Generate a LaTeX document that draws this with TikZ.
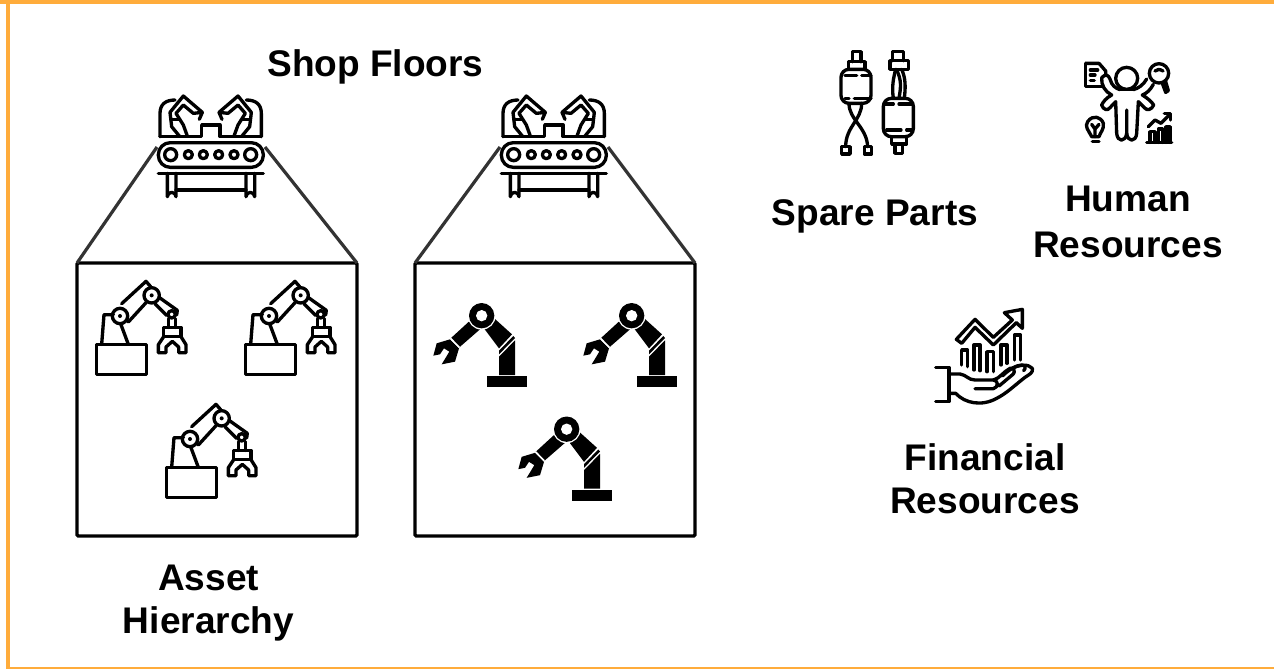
\documentclass[tikz,border=0pt]{standalone}
\usepackage{fontspec}
\setmainfont{Liberation Sans}
\definecolor{frameor}{HTML}{FFAC3B}
\definecolor{linkgrey}{HTML}{333333}
\tikzset{
  icon/.style={line width=2.5pt,line join=round,line cap=round,draw=black},
  lab/.style={font=\bfseries\fontsize{27.8}{32.25}\selectfont,align=center,text=black,inner sep=0pt},
  framebox/.style={draw=black,line width=2.5pt,inner sep=0pt,outer sep=0pt,minimum width=210pt,minimum height=204.75pt,anchor=north west,rounded corners=1pt},
  link/.style={draw=linkgrey,line width=2.4pt},
  zoomed/.style={x=0.25pt,y=-0.25pt},
  cut/.style={draw=white,line width=1.1pt}
}
\newcommand{\conveyorhalf}{
  \draw[icon] (60,170) -- (60,100) .. controls (60,72) and (78,60) .. (105,60);
  \draw[icon] (90,97) -- (130,48) -- (187,97) -- (178,118) (187,97) -- (160,100) -- (130,75) -- (108,100) -- (130,135) -- (142,168);
  \draw[icon] (90,97) -- (95,140) -- (118,168);
  \draw[icon] (95,118) -- (118,118);
}
\newcommand{\conveyoricon}{
  \conveyorhalf
  \begin{scope}[xshift=106pt,xscale=-1]\conveyorhalf\end{scope}
  \draw[icon] (60,170) -- (185,170) -- (185,135) -- (240,135) -- (240,170) -- (364,170);
  \draw[icon,rounded corners=9pt] (55,188) rectangle (370,262);
  \foreach \cx in {92,332}{\draw[icon] (\cx,224) circle[radius=18];}
  \foreach \cx in {145,190,236,282}{\draw[icon] (\cx,224) circle[radius=12];}
  \draw[icon] (55,280) -- (370,280);
  \draw[icon] (82,280) -- (82,350) arc[start angle=180,end angle=360,radius=13] -- (108,280);
  \draw[icon] (318,280) -- (318,350) arc[start angle=180,end angle=360,radius=13] -- (344,280);
  \draw[icon] (108,330) -- (318,330);
}
\newcommand{\robotline}{
  \draw[icon] (35,223) rectangle (185,313);
  \draw[icon] (50,223) -- (57,134) -- (85,134);
  \draw[icon] (108,164) -- (130,223);
  \draw[icon] (105,138) circle[radius=23];
  \fill (105,138) circle[radius=6];
  \draw[icon] (200,76) circle[radius=23];
  \fill (200,76) circle[radius=6];
  \draw[icon] (110,101) -- (183,34) -- (197,50);
  \draw[icon] (130,156) -- (183,98);
  \draw[icon] (225,84) -- (277,121) -- (275,135);
  \draw[icon] (210,101) -- (245,136);
  \draw[icon] (260,133) circle[radius=11];
  \draw[icon] (250,146) -- (250,172) (272,146) -- (272,172);
  \draw[icon] (236,172) rectangle (288,200);
  \draw[icon] (236,200) -- (220,224) -- (220,248) -- (243,248) -- (243,231) -- (262,214) -- (281,231) -- (281,248) -- (303,248) -- (303,224) -- (288,200);
}
\newcommand{\robotsolid}{
  \fill (1022,75) -- (962,130) -- (988,157) -- (1050,103) -- cycle;
  \fill (1095,72) -- (1146,118) -- (1107,160) -- (1062,100) -- cycle;
  \fill (1150,123) -- (1155,129) -- (1107,178) -- (1107,167) -- cycle;
  \fill (960,133) -- (920,145) -- (910,182) -- (930,178) -- (942,160) -- (958,170) -- (935,208) -- (975,200) -- (987,160) -- cycle;
  \fill (1155,136) -- (1155,240) -- (1107,240) -- (1107,185) -- cycle;
  \fill (1072,243) rectangle (1190,277);
  \fill[white] (1055,62) circle[radius=42];
  \fill (1055,62) circle[radius=38];
  \fill[white] (1055,62) circle[radius=17];
  \draw[cut] (962,130) -- (988,157);
}
\begin{document}
\begin{tikzpicture}[x=0.75pt,y=-0.75pt]
\useasboundingbox (0,0) rectangle (1274,669);
\fill[white] (0,0) rectangle (1274,669);
\fill[frameor] (0,0) rectangle (1274,4);
\fill[frameor] (6,0) rectangle (10,669);
\fill[frameor] (6,667) rectangle (1274,669);

\node[lab] (shop) at (375.5,67) {Shop Floors};
\node[lab] (asset) at (208.5,603) {Asset\\Hierarchy};
\node[lab] (spare) at (875,216) {Spare Parts};
\node[lab] (human) at (1128,222) {Human\\[2pt]Resources};
\node[lab] (fin) at (985,479) {Financial\\Resources};

\node[framebox] (boxa) at (77,263) {};
\node[framebox] (boxb) at (415,263) {};

\coordinate (cal) at (157,147);
\coordinate (car) at (265,147);
\coordinate (cbl) at (500,147);
\coordinate (cbr) at (608,147);
\draw[link] (boxa.north west) -- (cal);
\draw[link] (boxa.north east) -- (car);
\draw[link] (boxb.north west) -- (cbl);
\draw[link] (boxb.north east) -- (cbr);

\begin{scope}[shift={(140,80)},zoomed]\conveyoricon\end{scope}
\begin{scope}[shift={(483,80)},zoomed]\conveyoricon\end{scope}

\begin{scope}[shift={(85,270)},zoomed]\robotline\end{scope}
\begin{scope}[shift={(234,270)},zoomed]\robotline\end{scope}
\begin{scope}[shift={(155,393)},zoomed]\robotline\end{scope}

\begin{scope}[shift={(130,295)},zoomed]\robotsolid\end{scope}
\begin{scope}[shift={(280,295)},zoomed]\robotsolid\end{scope}
\begin{scope}[shift={(215,408.5)},zoomed]\robotsolid\end{scope}

% spare parts
\begin{scope}[shift={(825,40)},zoomed]
  \draw[icon] (82,65) -- (82,35) -- (108,35) -- (108,65);
  \draw[icon] (70,88) -- (70,65) -- (120,65) -- (120,88);
  \draw[icon,rounded corners=6pt] (48,88) rectangle (138,190);
  \draw[icon] (60,106) -- (95,106) (110,106) -- (138,106);
  \draw[icon] (60,175) -- (72,175) (88,175) -- (138,175);
  \draw[icon] (72,190) .. controls (72,240) and (125,260) .. (128,320);
  \draw[icon] (110,190) .. controls (110,240) and (62,260) .. (62,320);
  \draw[icon] (50,320) rectangle (75,342);
  \draw[icon] (118,320) rectangle (140,342);
  \draw[icon] (202,62) -- (202,35) -- (235,35) -- (235,62);
  \draw[icon] (195,62) rectangle (250,88);
  \draw[icon] (212,88) .. controls (205,115) and (200,140) .. (205,175);
  \draw[icon] (230,88) .. controls (242,115) and (242,140) .. (238,175);
  \draw[icon] (214,88) .. controls (230,120) and (228,140) .. (222,175);
  \draw[icon,rounded corners=6pt] (175,175) rectangle (265,290);
  \draw[icon] (178,192) -- (205,192) (222,192) -- (262,192);
  \draw[icon] (185,270) -- (228,270) (245,270) -- (262,270);
  \draw[icon] (200,290) -- (200,312) -- (245,312) -- (245,290);
  \draw[icon] (210,312) -- (210,340) -- (232,340) -- (232,312);
\end{scope}

% human resources
\begin{scope}[shift={(1075,55)},zoomed]
  \draw[icon] (155,70) circle[radius=33];
  \draw[icon] (32,25) -- (72,25) -- (92,48) -- (92,60);
  \draw[icon] (32,25) -- (32,95) -- (80,95);
  \draw[icon] (46,45) -- (68,45) (46,60) -- (60,60) (46,76) -- (58,76);
  \draw[icon] (80,68) .. controls (92,55) and (100,60) .. (105,72) .. controls (110,92) and (122,100) .. (135,104);
  \draw[icon] (80,68) .. controls (78,90) and (90,110) .. (110,120) .. controls (92,130) and (85,140) .. (80,150) .. controls (85,165) and (98,168) .. (105,158) -- (122,140) -- (125,235) .. controls (127,262) and (152,262) .. (155,235) -- (155,165);
  \draw[icon] (135,104) -- (175,104);
  \draw[icon] (175,104) .. controls (190,100) and (205,90) .. (215,72);
  \draw[icon] (235,88) .. controls (226,105) and (215,115) .. (202,120) .. controls (218,130) and (230,140) .. (236,150) .. controls (230,165) and (215,168) .. (208,158) -- (190,140) -- (185,235) .. controls (183,262) and (158,262) .. (155,235);
  \draw[icon] (252,55) circle[radius=29];
  \draw[icon] (240,48) .. controls (245,42) and (255,42) .. (264,48);
  \draw[icon] (262,85) -- (272,112) -- (280,107) -- (272,80);
  \draw[icon] (50,245) .. controls (40,225) and (28,215) .. (38,200) .. controls (53,178) and (78,185) .. (85,205) .. controls (88,222) and (76,232) .. (72,245) -- cycle;
  \draw[icon] (52,260) -- (72,260);
  \draw[icon] (50,208) -- (60,222) -- (72,208) (60,222) -- (60,245);
  \draw[icon] (220,215) -- (240,195) -- (258,205) -- (285,178);
  \draw[icon] (268,175) -- (287,175) -- (287,195);
  \draw[icon] (215,262) -- (290,262);
  \draw[icon] (225,262) -- (225,230) -- (240,230) -- (240,262);
  \draw[icon] (250,262) -- (250,222) -- (263,222) -- (263,262);
  \draw[icon] (273,262) -- (273,215) -- (285,215) -- (285,262);
\end{scope}

% financial resources
\begin{scope}[shift={(925,300)},zoomed]
  \draw[icon] (94,118) -- (150,58) -- (205,112) -- (262,60) -- (238,38) -- (292,28) -- (292,85) -- (274,68) -- (205,135) -- (150,82) -- (110,130) -- cycle;
  \draw[icon] (110,195) -- (110,150) -- (128,150) -- (128,200);
  \draw[icon] (147,210) -- (147,135) -- (165,135) -- (165,212);
  \draw[icon] (186,215) -- (186,155) -- (205,155) -- (205,215);
  \draw[icon] (228,195) -- (228,135) -- (246,135) -- (246,190);
  \draw[icon] (268,180) -- (268,105) -- (287,105) -- (287,180);
  \draw[icon] (32,202) -- (72,202) -- (72,305) -- (32,305);
  \draw[icon] (72,222) -- (105,222) .. controls (125,225) and (130,240) .. (150,240) -- (205,240) .. controls (220,240) and (222,262) .. (205,266) -- (150,266);
  \draw[icon] (205,240) .. controls (225,235) and (235,215) .. (255,205) .. controls (265,200) and (272,215) .. (265,222);
  \draw[icon] (232,228) .. controls (250,210) and (275,195) .. (290,195) .. controls (302,195) and (303,205) .. (296,212);
  \draw[icon] (262,205) .. controls (280,195) and (310,190) .. (322,205) .. controls (325,218) and (315,222) .. (300,232) .. controls (270,255) and (245,280) .. (215,295) .. controls (170,320) and (120,310) .. (92,280) -- (72,280);
  \draw[icon] (222,258) -- (265,222);
\end{scope}
\end{tikzpicture}
\end{document}
